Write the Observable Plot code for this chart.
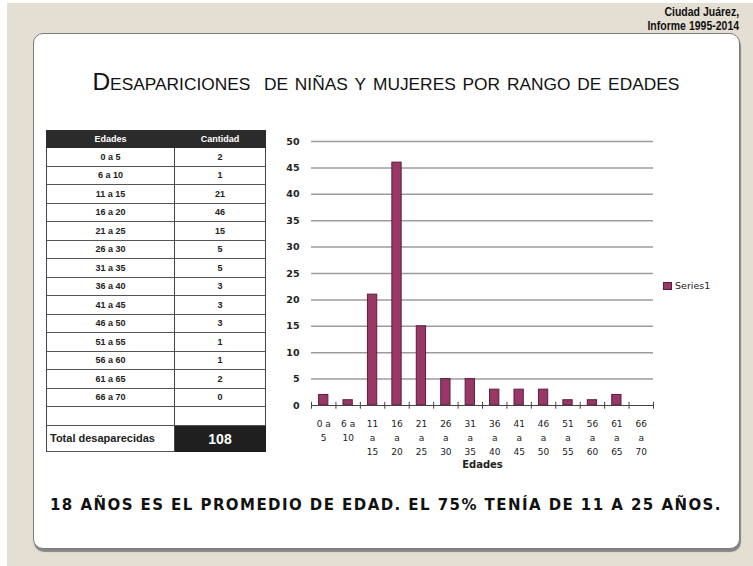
<!DOCTYPE html>
<html>
<head>
<meta charset="utf-8">
<script src="https://cdn.jsdelivr.net/npm/d3@7"></script>
<script src="https://cdn.jsdelivr.net/npm/@observablehq/plot@0.6"></script>
<style>
  html, body { margin: 0; padding: 0; background: #ffffff; }
  #page { position: relative; width: 753px; height: 566px; overflow: hidden; background: #ffffff; }
  #bg { position: absolute; left: 7px; top: 3px; width: 746px; height: 563px; background: #e5dfd3; }
  #card { position: absolute; left: 33px; top: 33px; width: 705px; height: 514px; background: #fff;
          border: 1px solid #7c7c7c; border-radius: 10px; box-shadow: 1px 3px 1px #858585; }
  #source { position: absolute; right: 14px; top: 5px; text-align: right; font-family: "Liberation Sans", Arial, sans-serif;
            font-weight: bold; font-size: 12.5px; line-height: 14px; color: #111; transform: scaleX(0.84); transform-origin: right top; }
  #title { position: absolute; left: 33px; top: 68px; width: 706px; text-align: center; white-space: pre;
           font-family: "Liberation Sans", Arial, sans-serif; font-variant: small-caps;
           font-size: 24px; line-height: 27px; color: #111; }
  #title span { display: inline-block; transform-origin: center; }
  #tbl { position: absolute; left: 46px; top: 130px; width: 220px; font-family: "Liberation Sans", Arial, sans-serif; color: #222; }
  .row { display: flex; box-sizing: border-box; }
  .c1, .c2 { box-sizing: border-box; display: flex; align-items: center; justify-content: center; font-size: 9px; font-weight: bold; }
  .c1 { width: 129px; border-left: 1px solid #444; border-right: 1px solid #444; }
  .c2 { width: 91px; border-right: 1px solid #444; }
  .data .c1, .data .c2 { height: 18.5px; border-bottom: 1px solid #555; }
  .head .c1, .head .c2 { height: 18px; background: #2b2b2b; color: #fff; border-color: #2b2b2b; }
  .total .c1 { height: 26px; justify-content: flex-start; padding-left: 3px; font-size: 11px; border-bottom: 1px solid #555; }
  .total .c2 { height: 26px; background: #1f1f1f; color: #fff; font-size: 14px; border-color: #1f1f1f; }
  #chart { position: absolute; left: 270px; top: 125px; }
  #legend { position: absolute; left: 663px; top: 280px; font-family: "DejaVu Sans", Verdana, sans-serif; font-size: 9.5px; color: #222; display: flex; align-items: center; }
  #legend i { display: inline-block; width: 7px; height: 6px; background: #983866; border: 0.5px solid #5f1b3d; margin-right: 3px; }
  #note { position: absolute; left: 33px; top: 496px; width: 706px; text-align: center; white-space: nowrap;
          font-family: "DejaVu Sans", Verdana, sans-serif; font-weight: bold; font-size: 15px; color: #111; }
  #note span { display: inline-block; }
</style>
</head>
<body>
<div id="page">
  <div id="bg"></div>
  <div id="card"></div>
  <div id="source"></div>
  <div id="title"><span></span></div>
  <div id="tbl"></div>
  <div id="chart"></div>
  <div id="legend"><i></i><span></span></div>
  <div id="note"><span></span></div>
</div>
<script>
// ---- data ----
const edades = ["0 a 5","6 a 10","11 a 15","16 a 20","21 a 25","26 a 30","31 a 35","36 a 40","41 a 45","46 a 50","51 a 55","56 a 60","61 a 65","66 a 70"];
const cantidad = [2, 1, 21, 46, 15, 5, 5, 3, 3, 3, 1, 1, 2, 0];
const etiquetasEje = ["0 a\n5","6 a\n10","11\na\n15","16\na\n20","21\na\n25","26\na\n30","31\na\n35","36\na\n40","41\na\n45","46\na\n50","51\na\n55","56\na\n60","61\na\n65","66\na\n70"];
const yTicks = [0, 5, 10, 15, 20, 25, 30, 35, 40, 45, 50];
const encabezados = ["Edades", "Cantidad"];
const totalEtiqueta = "Total desaparecidas";
const total = 108;
const serieNombre = "Series1";
const ejeTitulo = "Edades";
const titulo = "Desapariciones  de niñas y mujeres por rango de edades";
const fuente = ["Ciudad Juárez,", "Informe 1995-2014"];
const nota = "18 AÑOS ES EL PROMEDIO DE EDAD. EL 75% TENÍA DE 11 A 25 AÑOS.";

// ---- texts ----
document.getElementById("source").innerHTML = fuente.join("<br>");
const tspan = document.querySelector("#title span");
tspan.textContent = titulo;
document.querySelector("#legend span").textContent = serieNombre;
const nspan = document.querySelector("#note span");
nspan.textContent = nota;

// ---- table ----
const tbl = document.getElementById("tbl");
function addRow(cls, a, b) {
  const r = document.createElement("div");
  r.className = "row " + cls;
  const c1 = document.createElement("div"); c1.className = "c1"; c1.textContent = a;
  const c2 = document.createElement("div"); c2.className = "c2"; c2.textContent = b;
  r.appendChild(c1); r.appendChild(c2); tbl.appendChild(r);
}
addRow("head", encabezados[0], encabezados[1]);
edades.forEach((e, i) => addRow("data", e, String(cantidad[i])));
addRow("data", "", "");
addRow("total", totalEtiqueta, String(total));

// ---- chart ----
const data = edades.map((e, i) => ({edad: e, cantidad: cantidad[i], i, etiqueta: etiquetasEje[i]}));
const chart = Plot.plot({
  width: 400,
  height: 355,
  marginLeft: 41,
  marginRight: 17,
  marginTop: 16,
  marginBottom: 75,
  style: {fontFamily: "'DejaVu Sans', Verdana, sans-serif", background: "transparent", color: "#222"},
  x: {domain: [0, edades.length], axis: null},
  y: {domain: [0, 50], axis: null},
  marks: [
    Plot.gridY(yTicks.filter(v => v > 0), {stroke: "#9c9c9c", strokeOpacity: 1, strokeWidth: 1.5}),
    Plot.axisY({ticks: yTicks, tickSize: 0, tickPadding: 12, fontSize: 9.5, fontWeight: "bold", fill: "#222", label: null}),
    Plot.rectY(data, {x1: d => d.i + 0.31, x2: d => d.i + 0.69, y1: 0, y2: "cantidad", fill: "#983866", stroke: "#5f1b3d", strokeWidth: 1}),
    Plot.ruleY([0], {stroke: "#444", strokeWidth: 1.2}),
    Plot.ruleX(d3.range(edades.length + 1), {x: d => d, y1: -0.7, y2: 0.6, stroke: "#444", strokeWidth: 1}),
    Plot.text(data, {x: d => d.i + 0.5, y: 0, dy: 12, text: "etiqueta", lineAnchor: "top", lineHeight: 1.55, fontSize: 9, fill: "#222"}),
    Plot.text([ejeTitulo], {frameAnchor: "bottom", dy: 62, text: d => d, fontSize: 10, fontWeight: "bold", fill: "#222"})
  ]
});
document.getElementById("chart").appendChild(chart);

// ---- fit title and note widths ----
const tw = tspan.getBoundingClientRect().width;
tspan.style.transform = `scaleX(${587 / tw})`;
const nw = nspan.getBoundingClientRect().width;
nspan.style.letterSpacing = `${(672 - nw) / nota.length}px`;
</script>
</body>
</html>
